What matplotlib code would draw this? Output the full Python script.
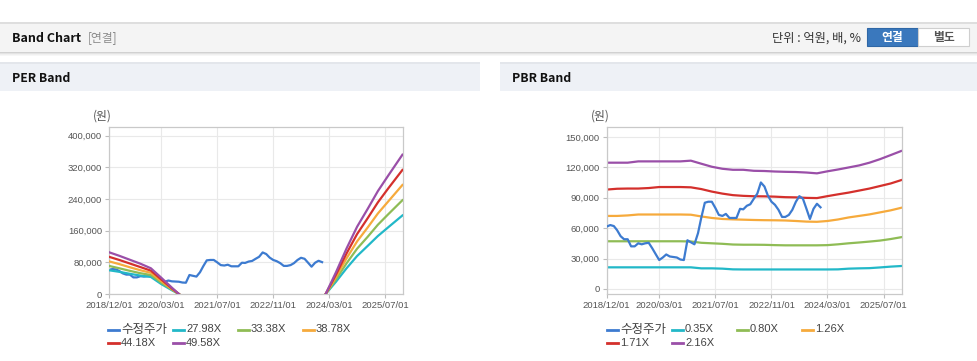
import numpy as np
import pandas as pd
import matplotlib
matplotlib.use('Agg')
import matplotlib.pyplot as plt
from matplotlib.patches import Rectangle
from matplotlib.lines import Line2D
from matplotlib.ticker import FuncFormatter

plt.rcParams['font.family'] = ['Liberation Sans', 'Noto Sans CJK KR', 'DejaVu Sans']
KR = ['Noto Sans CJK KR', 'DejaVu Sans']

W, H = 978, 361

# ---- data (won) ----
# adjusted price, monthly from 2018/12
price = [61500, 63000, 62000, 58000, 52000, 49000, 49000, 42000, 42000, 45000,
         44000, 45000, 45500, 40000, 34000, 28500, 31000, 34000, 32000, 31500,
         31000, 29000, 28500, 48000, 46000, 44000, 55000, 70000, 85000, 86000,
         86000, 80000, 73000, 72000, 74000, 70000, 70000, 70000, 79000, 78500,
         82000, 83500, 89000, 94000, 105000, 101000, 92000, 86000, 83000, 78000,
         71000, 71000, 73000, 78000, 86000, 91500, 89000, 79000, 69000, 79000,
         84000, 80500]
price_dates = pd.date_range('2018-12-01', periods=len(price), freq='MS')

# PER band (two pieces, negative EPS in between is not drawn)
per_left_dates = pd.to_datetime(['2018-12-01', '2019-03-01', '2019-06-01', '2019-09-01',
                                 '2019-12-01', '2020-03-01', '2020-06-01', '2020-08-01'])
per_right_dates = pd.to_datetime(['2024-02-01', '2024-05-01', '2024-08-01', '2024-11-01',
                                  '2025-02-01', '2025-05-01', '2025-08-01', '2025-12-01'])
per_labels = ['27.98X', '33.38X', '38.78X', '44.18X', '49.58X']
per_left = [
    [60000, 56000, 51000, 46500, 43000, 25000, 9500, 0],
    [71000, 65000, 58500, 52500, 48000, 28500, 11000, 0],
    [82500, 75500, 67500, 60000, 53500, 32500, 12500, 0],
    [94000, 86000, 77000, 68000, 59000, 36500, 14000, 0],
    [105500, 96500, 86500, 76500, 65000, 41000, 16000, 0],
]
per_right = [
    [0, 31000, 65000, 96000, 121500, 146500, 169000, 198500],
    [0, 37000, 77500, 114500, 144500, 175000, 202000, 237000],
    [0, 43000, 90000, 133000, 168000, 203500, 234500, 275500],
    [0, 49000, 102500, 151500, 191500, 231500, 267500, 313500],
    [0, 55000, 115000, 170000, 215000, 260000, 300000, 352000],
]

# PBR band, quarterly
pbr_dates = pd.date_range('2018-12-01', '2025-12-01', freq='3MS')
pbr_labels = ['0.35X', '0.80X', '1.26X', '1.71X', '2.16X']
pbr_035 = [21300, 21300, 21300, 21300, 21300, 21300, 21300, 21300, 21300, 20300,
           20300, 20000, 19300, 19200, 19200, 19200, 19200, 19200, 19200, 19200,
           19200, 19200, 19300, 20000, 20300, 20500, 21200, 22000, 22600]
pbr_080 = [47000, 47000, 47000, 47000, 47000, 47000, 47000, 47000, 46800, 45500,
           45000, 44500, 43800, 43600, 43600, 43500, 43200, 43000, 43000, 43000,
           43000, 43200, 44000, 45000, 45800, 46700, 47700, 49200, 51000]
pbr_126 = [72000, 72000, 72500, 73400, 73400, 73400, 73400, 73400, 73200, 71500,
           70000, 69000, 68600, 68300, 68000, 67800, 67700, 67500, 67000, 66400,
           66200, 67000, 68500, 70500, 72000, 73500, 75500, 77500, 80000]
pbr_171 = [98000, 98800, 99000, 99000, 99500, 100500, 100500, 100500, 100200, 98500,
           96000, 94000, 92500, 91800, 91400, 91300, 91000, 90500, 90300, 89800,
           89600, 91500, 93300, 95000, 97000, 99000, 101500, 104000, 107300]
pbr_216 = [124500, 124500, 124500, 125800, 125800, 125800, 125800, 125800, 126500, 123500,
           120500, 118500, 117500, 117500, 116500, 116300, 115800, 115500, 115300, 114800,
           114000, 116000, 117800, 119800, 121800, 124500, 128000, 132000, 136000]
pbr_bands = [pbr_035, pbr_080, pbr_126, pbr_171, pbr_216]

xtick_labels = ['2018/12/01', '2020/03/01', '2021/07/01', '2022/11/01', '2024/03/01', '2025/07/01']
per_yticks = [0, 80000, 160000, 240000, 320000, 400000]
pbr_yticks = [0, 30000, 60000, 90000, 120000, 150000]

price_color = '#3d7bd0'
band_colors = ['#22b8c8', '#8fbc55', '#f6aa3c', '#d4302c', '#9a4fa8']


def frect(x0, y0, x1, y1, **kw):
    return Rectangle((x0 / W, 1 - y1 / H), (x1 - x0) / W, (y1 - y0) / H,
                     transform=fig.transFigure, **kw)


fig = plt.figure(figsize=(W / 100, H / 100), dpi=100)
fig.patch.set_facecolor('white')

# top bar
fig.patches.append(frect(0, 22, W, 52, facecolor='#f4f4f4', edgecolor='none'))
fig.patches.append(frect(0, 22, W, 23.5, facecolor='#dedede', edgecolor='none'))
for i, a in enumerate([0.18, 0.11, 0.06, 0.03]):
    fig.patches.append(frect(0, 52 + i, W, 53 + i, facecolor='black', alpha=a, edgecolor='none'))
fig.text(12 / W, 1 - 38 / H, 'Band Chart', fontsize=9, fontweight='bold', family=KR,
         va='center', ha='left', color='#111')
fig.text(88 / W, 1 - 38 / H, '[연결]', fontsize=8.5, family=KR, va='center', ha='left', color='#8a8a8a')
fig.text(861 / W, 1 - 38 / H, '단위 : 억원, 배, %', fontsize=8.8, family=KR,
         va='center', ha='right', color='#333')
fig.patches.append(frect(867, 27.5, 918, 46, facecolor='#3a78bd', edgecolor='#2f67a6', lw=0.8))
fig.patches.append(frect(918, 27.5, 969, 46, facecolor='white', edgecolor='#cfcfcf', lw=0.8))
fig.text(892.5 / W, 1 - 37 / H, '연결', fontsize=8.5, family=KR, fontweight='bold',
         va='center', ha='center', color='white')
fig.text(943.5 / W, 1 - 37 / H, '별도', fontsize=8.5, family=KR, fontweight='bold',
         va='center', ha='center', color='#555')

# panel headers
for x0, x1, title in [(0, 480, 'PER Band'), (500, W, 'PBR Band')]:
    fig.patches.append(frect(x0, 63, x1, 91, facecolor='#eef1f6', edgecolor='none'))
    fig.patches.append(frect(x0, 62, x1, 64, facecolor='#e3e6eb', edgecolor='none'))
    fig.text((x0 + 12) / W, 1 - 78 / H, title, fontsize=8.8, fontweight='bold', family=KR,
             va='center', ha='left', color='#111')


def style_axes(ax, yticks, ylim):
    ax.set_xlim(pd.Timestamp('2018-12-01'), pd.Timestamp('2025-12-06'))
    ax.set_ylim(*ylim)
    ax.set_xticks(pd.to_datetime([s.replace('/', '-') for s in xtick_labels]))
    ax.set_xticklabels(xtick_labels)
    ax.set_yticks(yticks)
    ax.yaxis.set_major_formatter(FuncFormatter(lambda v, p: f'{int(v):,}'))
    ax.grid(True, color='#e9e9e9', lw=0.8)
    ax.set_axisbelow(True)
    for s in ax.spines.values():
        s.set_color('#c9c9c9')
        s.set_linewidth(0.9)
    ax.tick_params(axis='both', labelsize=6.8, colors='#bdbdbd', labelcolor='#555',
                   length=3, width=0.8, pad=2)
    ax.text(-0.022, 1.066, '(원)', transform=ax.transAxes, fontsize=8.5, family=KR,
            color='#555', ha='center', va='center')


def legend_row(ax_left, y, items):
    offsets = [0, 65, 130, 195]
    for (label, color), off in zip(items, offsets):
        x = ax_left + off
        fig.add_artist(Line2D([x / W, (x + 11) / W], [1 - y / H, 1 - y / H],
                              transform=fig.transFigure, color=color, lw=2))
        size = 9 if label == '수정주가' else 8
        fig.text((x + 13) / W, 1 - y / H, label, fontsize=size, color='#444',
                 family=['Liberation Sans', 'Noto Sans CJK KR'], va='center', ha='left')


# PER chart
ax1 = fig.add_axes([109 / W, 67 / H, 294 / W, 167 / H])
ax1.plot(price_dates, price, color=price_color, lw=1.6, zorder=2)
for col, left, right in zip(band_colors, per_left, per_right):
    ax1.plot(per_left_dates, left, color=col, lw=1.6, zorder=3)
    ax1.plot(per_right_dates, right, color=col, lw=1.6, zorder=3)
style_axes(ax1, per_yticks, (0, 422000))

legend_row(108, 329.5, [('수정주가', price_color)] + list(zip(per_labels[:3], band_colors[:3])))
legend_row(108, 343, list(zip(per_labels[3:], band_colors[3:])))

# PBR chart
ax2 = fig.add_axes([606.7 / W, 67 / H, 295 / W, 167.3 / H])
for col, vals in zip(band_colors, pbr_bands):
    ax2.plot(pbr_dates, vals, color=col, lw=1.6, zorder=2)
ax2.plot(price_dates, price, color=price_color, lw=1.6, zorder=3)
style_axes(ax2, pbr_yticks, (-5000, 160000))

legend_row(607, 329.5, [('수정주가', price_color)] + list(zip(pbr_labels[:3], band_colors[:3])))
legend_row(607, 343, list(zip(pbr_labels[3:], band_colors[3:])))

fig.savefig('out.png', dpi=100)
